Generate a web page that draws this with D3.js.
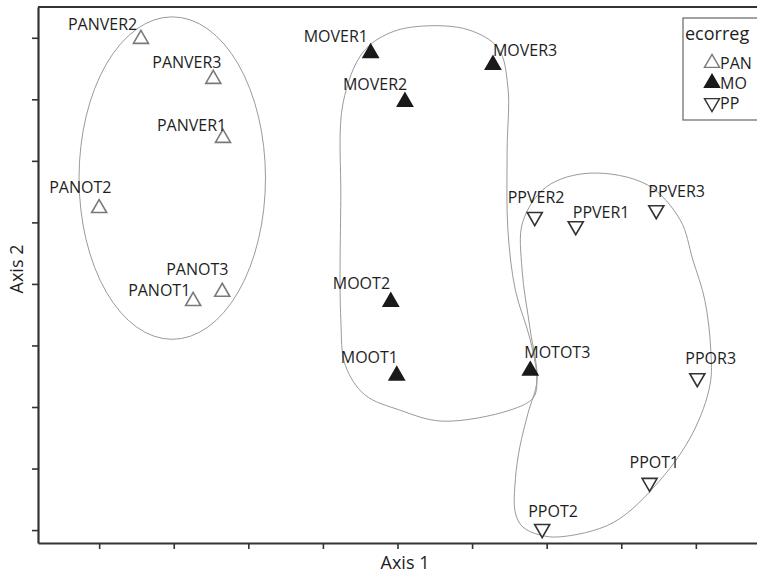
<!DOCTYPE html>
<html>
<head>
<meta charset="utf-8">
<script src="https://cdn.jsdelivr.net/npm/d3@7"></script>
<style>
  body { margin: 0; background: #fff; }
  svg { display: block; font-family: "Open Sans", sans-serif; }
</style>
</head>
<body>
<svg id="chart"></svg>
<script>
// sample names, group and ordination scores
const names  = ["PANVER2", "PANVER3", "PANVER1", "PANOT2", "PANOT3", "PANOT1",
                "MOVER1", "MOVER2", "MOVER3", "MOOT2", "MOOT1", "MOTOT3",
                "PPVER2", "PPVER1", "PPVER3", "PPOR3", "PPOT1", "PPOT2"];
const groups = ["PAN", "PAN", "PAN", "PAN", "PAN", "PAN",
                "MO", "MO", "MO", "MO", "MO", "MO",
                "PP", "PP", "PP", "PP", "PP", "PP"];
const axis1  = [-3.44, -2.47, -2.34, -4.00, -2.35, -2.74,
                -0.36, 0.10, 1.28, -0.09, -0.01, 1.78,
                1.84, 2.39, 3.47, 4.02, 3.38, 1.94];
const axis2  = [3.98, 3.33, 2.37, 1.23, -0.13, -0.28,
                3.75, 2.96, 3.56, -0.29, -1.49, -1.41,
                1.09, 0.94, 1.20, -1.53, -3.23, -3.98];

const legendGroups = ["PAN", "MO", "PP"];
const tickVals = [-4, -3, -2, -1, 0, 1, 2, 3, 4];

// PAN ellipse: centre and radii, in axis units
const panEllipse = { cx: -3.02, cy: 1.72, rx: 1.25, ry: 2.62 };

// outlines round MO and PP, in axis units
const moHull = [[0.34, 4.19], [0.95, 4.13], [1.35, 3.83], [1.48, 3.20], [1.47, 2.18],
  [1.48, 0.88], [1.58, -0.10], [1.78, -0.91], [1.87, -1.56], [1.82, -1.85],
  [1.51, -2.05], [0.60, -2.23], [0.03, -2.05], [-0.44, -1.80], [-0.70, -1.32],
  [-0.76, -0.58], [-0.76, 1.36], [-0.73, 2.94], [-0.46, 3.77], [-0.10, 4.08]];
const ppHull = [[2.58, 1.80], [3.35, 1.61], [3.79, 1.04], [3.96, 0.39], [4.12, -0.26],
  [4.20, -1.07], [4.19, -1.64], [3.96, -2.42], [3.52, -3.19], [2.89, -3.88],
  [2.18, -4.11], [1.91, -4.08], [1.68, -3.95], [1.58, -3.72], [1.58, -3.18],
  [1.64, -2.65], [1.75, -2.10], [1.87, -1.56], [1.78, -0.75], [1.67, 0.23],
  [1.68, 1.01], [2.00, 1.58]];

// label offsets in px from the marker (x start, baseline)
const labelOffsets = {
  PANVER2: [-73, -9], PANVER3: [-61, -11], PANVER1: [-66, -7], PANOT2: [-50, -15],
  PANOT3: [-56, -17], PANOT1: [-65, -5], MOVER1: [-67, -11], MOVER2: [-62, -12],
  MOVER3: [0, -9], MOOT2: [-58, -13], MOOT1: [-56, -13], MOTOT3: [-6, -13],
  PPVER2: [-27, -14], PPVER1: [-3, -8], PPVER3: [-8, -13], PPOR3: [-12, -14],
  PPOT1: [-20, -15], PPOT2: [-14, -12]
};

const W = 757, H = 575;
const margin = { top: 7, right: 0, bottom: 32, left: 38 };

const svg = d3.select("#chart").attr("width", W).attr("height", H);

const x = d3.scaleLinear().domain([-4.82, 4.82]).range([margin.left, W - margin.right]);
const y = d3.scaleLinear().domain([-4.21, 4.5]).range([H - margin.bottom, margin.top]);

const style = {
  PAN: { fill: "#fff", stroke: "#7a7a7a", rot: 0 },
  MO:  { fill: "#1a1a1a", stroke: "#1a1a1a", rot: 0 },
  PP:  { fill: "#fff", stroke: "#333", rot: 180 }
};
const tri = d3.symbol().type(d3.symbolTriangle).size(98);

// group outlines
svg.append("ellipse")
  .attr("cx", x(panEllipse.cx)).attr("cy", y(panEllipse.cy))
  .attr("rx", x(panEllipse.cx + panEllipse.rx) - x(panEllipse.cx))
  .attr("ry", y(panEllipse.cy) - y(panEllipse.cy + panEllipse.ry))
  .attr("fill", "none").attr("stroke", "#9a9a9a").attr("stroke-width", 1);

const hullLine = d3.line()
  .x(d => x(d[0])).y(d => y(d[1]))
  .curve(d3.curveCatmullRomClosed.alpha(0.5));

[moHull, ppHull].forEach(h => {
  svg.append("path").datum(h)
    .attr("d", hullLine)
    .attr("fill", "none").attr("stroke", "#9a9a9a").attr("stroke-width", 1);
});

// axes (no tick labels)
const xAxis = svg.append("g")
  .attr("transform", `translate(0,${y(-4.21)})`)
  .call(d3.axisBottom(x).tickValues(tickVals).tickFormat("").tickSize(6).tickSizeOuter(0));
const yAxis = svg.append("g")
  .attr("transform", `translate(${x(-4.82)},0)`)
  .call(d3.axisLeft(y).tickValues(tickVals).tickFormat("").tickSize(6).tickSizeOuter(0));
[xAxis, yAxis].forEach(a => {
  a.select(".domain").attr("stroke", "#333").attr("stroke-width", 2.2);
  a.selectAll(".tick line").attr("stroke", "#333").attr("stroke-width", 1.6);
});

svg.append("line")
  .attr("x1", x(-4.82)).attr("x2", x(4.82) + 2)
  .attr("y1", y(4.5)).attr("y2", y(4.5))
  .attr("stroke", "#333").attr("stroke-width", 2.2);

// points
const pts = names.map((n, i) => ({ name: n, g: groups[i], a1: axis1[i], a2: axis2[i] }));

svg.selectAll("path.pt")
  .data(pts)
  .enter()
  .append("path")
  .attr("class", "pt")
  .attr("d", tri)
  .attr("transform", d => `translate(${x(d.a1)},${y(d.a2)}) rotate(${style[d.g].rot})`)
  .attr("fill", d => style[d.g].fill)
  .attr("stroke", d => style[d.g].stroke)
  .attr("stroke-width", 1.6);

svg.selectAll("text.lbl")
  .data(pts)
  .enter()
  .append("text")
  .attr("class", "lbl")
  .attr("x", d => x(d.a1) + labelOffsets[d.name][0])
  .attr("y", d => y(d.a2) + labelOffsets[d.name][1])
  .attr("font-size", 16)
  .attr("fill", "#1e1e1e")
  .text(d => d.name);

// axis titles
svg.append("text")
  .attr("x", 405).attr("y", 569)
  .attr("text-anchor", "middle")
  .attr("font-size", 18).attr("fill", "#1e1e1e")
  .text("Axis 1");

svg.append("text")
  .attr("transform", "translate(23,269) rotate(-90)")
  .attr("text-anchor", "middle")
  .attr("font-size", 18).attr("fill", "#1e1e1e")
  .text("Axis 2");

// legend
const lg = svg.append("g");
lg.append("rect")
  .attr("x", 683).attr("y", 18).attr("width", 80).attr("height", 102)
  .attr("fill", "#fff").attr("stroke", "#666").attr("stroke-width", 1.2);
lg.append("text")
  .attr("x", 685).attr("y", 40)
  .attr("font-size", 18).attr("fill", "#1e1e1e")
  .text("ecorreg");

legendGroups.forEach((g, i) => {
  const cy = 63 + i * 20;
  lg.append("path")
    .attr("d", tri)
    .attr("transform", `translate(712,${cy}) rotate(${style[g].rot})`)
    .attr("fill", style[g].fill)
    .attr("stroke", style[g].stroke)
    .attr("stroke-width", 1.4);
  lg.append("text")
    .attr("x", 720).attr("y", cy + 6)
    .attr("font-size", 16).attr("fill", "#1e1e1e")
    .text(g);
});
</script>
</body>
</html>
